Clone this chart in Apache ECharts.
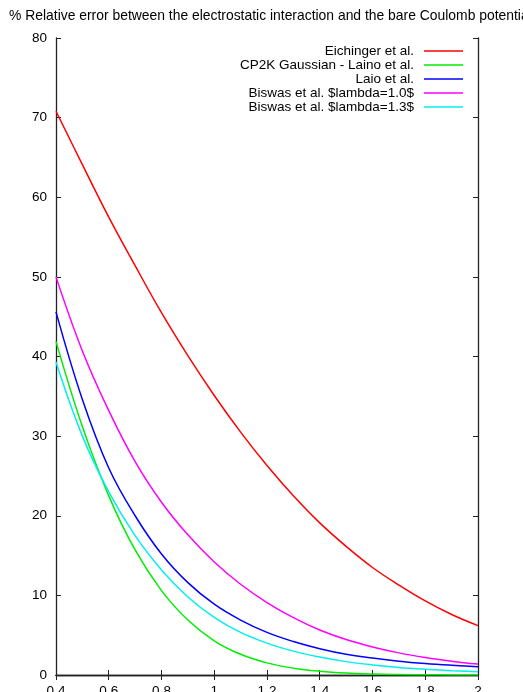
<!DOCTYPE html>
<html>
<head>
<meta charset="utf-8">
<script src="https://cdn.jsdelivr.net/npm/echarts@6/dist/echarts.min.js"></script>
<style>
  html, body { margin: 0; padding: 0; background: #fff; }
  #chart { width: 523px; height: 692px; }
</style>
</head>
<body>
<div id="chart"></div>
<script>
// Distance (x) and relative error in percent for each interaction model
const distances = [0.4, 0.5, 0.6, 0.7, 0.8, 0.9, 1.0, 1.1, 1.2, 1.3, 1.4, 1.5, 1.6, 1.7, 1.8, 1.9, 2.0];
const eichinger = [70.8, 64.1, 57.5, 51.4, 45.5, 40.1, 35.1, 30.5, 26.3, 22.5, 19.1, 16.15, 13.5, 11.3, 9.3, 7.6, 6.2];
const cp2kGaussian = [41.9, 31.2, 22.5, 15.7, 10.6, 6.9, 4.3, 2.6, 1.52, 0.86, 0.47, 0.24, 0.12, 0.06, 0.03, 0.01, 0.01];
const laio = [45.6, 34.6, 26.0, 20.0, 15.2, 11.6, 8.9, 6.9, 5.35, 4.2, 3.3, 2.6, 2.13, 1.74, 1.45, 1.23, 1.05];
const biswas10 = [50.0, 40.7, 33.2, 26.8, 21.7, 17.6, 14.2, 11.4, 9.1, 7.2, 5.65, 4.45, 3.52, 2.78, 2.2, 1.74, 1.37];
const biswas13 = [39.3, 30.0, 23.0, 17.5, 13.2, 9.8, 7.25, 5.35, 4.0, 3.0, 2.25, 1.68, 1.27, 0.95, 0.72, 0.54, 0.40];

const seriesNames = [
  'Eichinger et al.',
  'CP2K Gaussian - Laino et al.',
  'Laio et al.',
  'Biswas et al. $lambda=1.0$',
  'Biswas et al. $lambda=1.3$'
];
const seriesValues = [eichinger, cp2kGaussian, laio, biswas10, biswas13];
const seriesColors = ['#ff0000', '#00ee00', '#0000ff', '#ff00ff', '#00eeee'];

const titleText = '% Relative error between the electrostatic interaction and the bare Coulomb potential';

const X_MIN = 0.4, X_MAX = 2, X_STEP = 0.2;
const Y_MIN = 0, Y_MAX = 80, Y_STEP = 10;

const font = 'Liberation Sans, Arial, Helvetica, sans-serif';
const axisColor = '#222';

function pairs(values) {
  return distances.map((x, i) => [x, values[i]]);
}

const chart = echarts.init(document.getElementById('chart'), null, { renderer: 'canvas' });

const boxAxis = {
  axisLine: { show: true, lineStyle: { color: axisColor, width: 1.3 } },
  axisTick: { show: true, inside: true, length: 5, lineStyle: { color: axisColor, width: 1 } },
  splitLine: { show: false }
};

chart.setOption({
  animation: false,
  backgroundColor: '#ffffff',
  title: {
    text: titleText,
    left: 4,
    top: 4,
    textStyle: { fontFamily: font, fontSize: 13.9, fontWeight: 'normal', color: '#000' }
  },
  legend: {
    orient: 'vertical',
    right: 55,
    top: 39,
    align: 'right',
    icon: 'rect',
    itemWidth: 39,
    itemHeight: 1.6,
    itemGap: 0,
    data: seriesNames,
    textStyle: {
      fontFamily: font, fontSize: 13.5, color: '#000',
      lineHeight: 14, padding: [0, 5, 0, 0]
    }
  },
  grid: { left: 56, right: 45, top: 38, bottom: 17, containLabel: false, outerBoundsMode: 'none' },
  xAxis: [
    Object.assign({}, boxAxis, {
      type: 'value', position: 'bottom',
      min: X_MIN, max: X_MAX, interval: X_STEP,
      axisLabel: { show: true, margin: 9, color: '#000', fontFamily: font, fontSize: 13.5 }
    }),
    Object.assign({}, boxAxis, {
      type: 'value', position: 'top',
      min: X_MIN, max: X_MAX, interval: X_STEP,
      axisLabel: { show: false }
    })
  ],
  yAxis: [
    Object.assign({}, boxAxis, {
      type: 'value', position: 'left',
      min: Y_MIN, max: Y_MAX, interval: Y_STEP,
      axisLabel: { show: true, margin: 9, color: '#000', fontFamily: font, fontSize: 13.5 }
    }),
    Object.assign({}, boxAxis, {
      type: 'value', position: 'right',
      min: Y_MIN, max: Y_MAX, interval: Y_STEP,
      axisLabel: { show: false }
    })
  ],
  series: seriesNames.map((name, i) => ({
    name: name,
    type: 'line',
    xAxisIndex: 0,
    yAxisIndex: 0,
    data: pairs(seriesValues[i]),
    showSymbol: false,
    symbol: 'none',
    smooth: 0.4,
    color: seriesColors[i],
    lineStyle: { color: seriesColors[i], width: 1.5 }
  }))
});
</script>
</body>
</html>
